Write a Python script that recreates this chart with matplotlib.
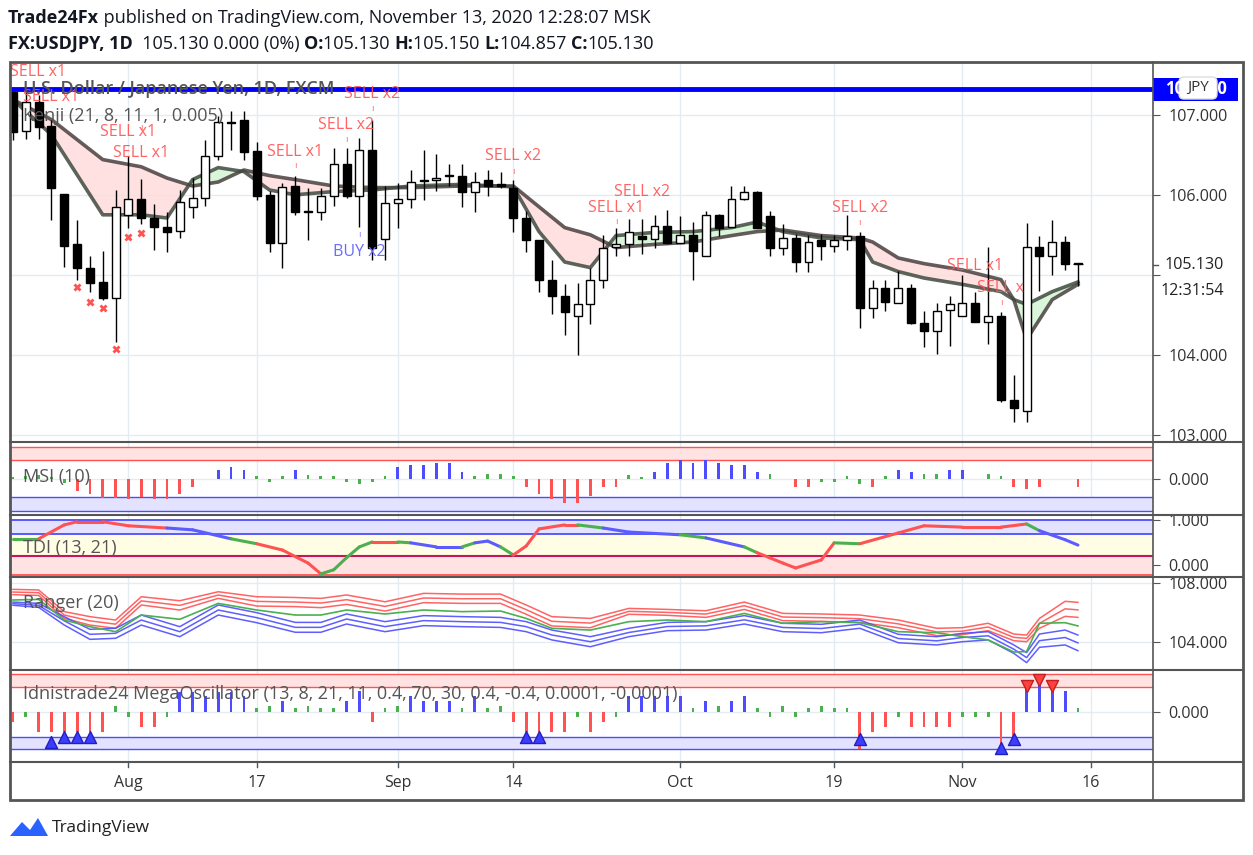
import matplotlib
matplotlib.use("Agg")
import matplotlib.pyplot as plt
from matplotlib.patches import Rectangle, FancyBboxPatch, Polygon
import numpy as np

plt.rcParams["font.family"] = "Open Sans"

# ---------------- DATA ----------------
opens = [107.28,106.80,107.16,106.86,106.01,105.38,105.09,104.91,104.71,105.75,105.95,105.71,105.60,105.55,105.85,105.96,106.48,106.91,106.93,106.55,
         106.00,105.40,106.11,105.79,105.78,105.98,106.39,105.98,106.56,105.45,105.90,105.95,106.18,106.19,106.24,106.24,106.03,106.18,106.14,106.09,
         105.71,105.44,104.94,104.74,104.48,104.64,104.93,105.35,105.39,105.48,105.45,105.61,105.40,105.50,105.23,105.75,105.60,105.95,106.03,105.73,
         105.33,105.46,105.16,105.43,105.36,105.44,105.49,104.59,104.83,104.65,104.83,104.40,104.30,104.56,104.49,104.65,104.41,104.49,103.43,103.30,
         105.35,105.24,105.41,105.13]
closes = [106.79,107.16,106.85,106.08,105.36,105.09,104.90,104.71,105.85,105.95,105.71,105.60,105.54,105.91,105.96,106.48,106.91,106.90,106.54,105.99,
          105.40,106.10,105.78,105.78,105.98,106.39,105.98,106.56,105.34,105.90,105.95,106.16,106.17,106.21,106.23,106.03,106.16,106.11,106.11,105.71,
          105.43,104.93,104.73,104.54,104.64,104.93,105.34,105.39,105.54,105.45,105.61,105.40,105.50,105.30,105.75,105.59,105.95,106.03,105.59,105.33,
          105.46,105.16,105.41,105.36,105.43,105.48,104.59,104.83,104.66,104.83,104.40,104.30,104.55,104.64,104.65,104.41,104.49,103.43,103.34,105.35,
          105.24,105.41,105.13,105.13]
highs = [107.34,107.31,107.25,106.94,106.01,105.69,105.24,105.30,106.06,106.49,106.20,105.88,105.79,106.06,106.21,106.69,106.99,107.05,107.05,106.66,
         106.05,106.15,106.23,106.08,106.09,106.59,106.59,106.71,106.94,106.11,106.15,106.31,106.56,106.51,106.39,106.39,106.28,106.31,106.28,106.18,
         105.80,105.44,105.18,104.88,104.90,105.09,105.50,105.59,105.70,105.70,105.75,105.81,105.73,105.66,105.80,105.76,106.11,106.11,106.05,105.80,
         105.63,105.51,105.50,105.51,105.50,105.75,105.53,104.93,104.93,105.05,104.89,104.55,104.65,104.74,105.00,104.79,105.35,104.54,103.75,105.65,
         105.48,105.68,105.48,105.15]
lows = [106.69,106.70,106.70,105.68,105.10,104.94,104.78,104.69,104.16,105.58,105.64,105.31,105.29,105.46,105.71,105.86,106.44,106.56,106.44,105.94,
        105.28,105.09,105.75,105.43,105.68,105.86,105.96,105.60,105.19,105.19,105.59,105.84,105.94,106.05,106.11,105.85,105.78,105.99,106.08,105.54,
        105.29,104.79,104.51,104.25,104.00,104.39,104.83,105.23,105.24,105.26,105.34,105.38,105.40,104.94,105.23,105.48,105.60,105.94,105.58,105.23,
        105.25,105.04,105.04,105.18,105.29,105.31,104.34,104.46,104.55,104.65,104.38,104.10,104.01,104.11,104.49,104.41,104.14,103.41,103.16,103.16,
        104.80,105.00,105.06,104.857]

kenji_idx = [0,3,7,10,12,14,16,18,20,22,25,28,31,35,39,41,43,45,47,50,53,56,58,60,63,66,67,69,71,74,77,78,79,81,83]
kenji_slow = [107.19,106.94,106.44,106.35,106.21,106.11,106.16,106.31,106.24,106.19,106.11,106.09,106.09,106.11,106.11,105.85,105.59,105.50,105.34,105.38,
              105.41,105.49,105.54,105.56,105.49,105.46,105.41,105.21,105.14,105.06,104.94,104.69,104.19,104.69,104.88]
kenji_fast = [107.19,106.75,105.75,105.75,105.71,106.19,106.34,106.29,106.06,106.00,106.04,106.06,106.11,106.13,106.10,105.54,105.16,105.09,105.49,105.53,
              105.54,105.59,105.66,105.54,105.46,105.44,105.16,105.04,104.96,104.88,104.79,104.69,104.63,104.79,104.91]

resistance_level = 107.325
last_price = 105.13

sell_labels = [("SELL x1",2,107.54),("SELL x1",3,107.22),("SELL x1",9,106.79),("SELL x1",10,106.52),("SELL x1",22,106.54),
               ("SELL x2",26,106.87),("SELL x2",28,107.26),("SELL x2",39,106.49),("SELL x1",47,105.84),("SELL x2",49,106.03),
               ("SELL x2",66,105.84),("SELL x1",75,105.11),("SELL x",77,104.84)]
sell_marks = [(10,106.83),(22,106.36),(26,106.68),(28,107.07),(39,106.28),(47,105.66),(66,105.64),(77,104.64)]
buy_labels = [("BUY x2",27,105.29)]
buy_marks = [(27,105.49)]
x_marks = [(9,105.47),(10,105.52),(5,104.85),(6,104.66),(7,104.59),(8,104.07)]

msi = [8,10,14,8,-12,-34,-43,-55,-55,-60,-52,-60,-60,-43,-22,2,28,38,28,10,-8,10,28,14,10,10,-8,-14,-8,10,38,44,44,50,50,22,10,16,16,10,
       -22,-43,-60,-70,-70,-50,-22,-22,14,6,22,50,58,50,58,50,44,44,22,16,2,-22,-22,-8,-8,10,-14,-22,10,28,22,16,16,28,28,2,16,10,-22,-28,-22,2,2,-22]

tdi_idx = [0,2,4,5,7,9,12,14,17,19,21,23,24,25,26,27,28,30,31,33,35,36,37,38,39,40,41,43,44,46,48,52,54,57,58,60,61,63,64,66,69,71,74,77,79,80,82,83]
tdi_val = [0.58,0.58,0.89,0.96,0.96,0.87,0.82,0.78,0.58,0.47,0.33,0.04,-0.20,-0.11,0.16,0.40,0.51,0.51,0.49,0.40,0.40,0.49,0.53,0.40,0.22,0.42,0.80,0.89,
           0.89,0.82,0.73,0.67,0.60,0.40,0.27,0.04,-0.07,0.11,0.49,0.47,0.71,0.87,0.84,0.84,0.91,0.76,0.56,0.44]
tdi_state = ["g","r","r","r","r","r","b","b","g","r","r","r","g","g","g","g","r","g","b","b","g","b","b","g","r","r","r","r",
             "g","b","b","g","b","g","r","r","r","r","g","r","r","r","r","r","g","b","b","b"]

rng_idx = [0,2,4,6,8,10,13,16,19,22,24,26,29,32,35,38,40,42,45,48,51,54,57,60,63,66,69,72,74,76,78,79,80,82,83]
rng_red_outer = [107.57,107.53,106.06,105.72,105.49,107.07,106.80,107.41,107.07,107.02,106.96,107.19,106.73,107.30,107.25,107.25,106.51,105.72,105.60,106.28,
                 106.21,106.12,106.71,105.94,105.90,105.83,105.49,104.93,104.97,105.27,104.54,104.47,105.60,106.76,106.69]
rng_red_inner = [107.21,107.16,105.60,105.15,104.93,106.51,106.17,106.96,106.44,106.40,106.33,106.55,106.10,106.67,106.62,106.62,105.88,105.09,104.97,105.88,
                 105.81,105.67,106.21,105.45,105.40,105.33,104.97,104.43,104.50,104.77,104.09,104.02,104.93,105.74,105.67]
rng_mid = [106.85,106.89,105.49,105.04,104.70,105.83,105.54,106.62,106.17,105.83,105.83,106.17,105.90,106.17,106.06,106.10,105.60,104.93,104.81,105.38,
           105.49,105.38,105.94,105.27,105.38,105.31,104.70,104.63,104.36,104.14,103.32,103.35,105.27,105.31,105.09]
rng_blue_inner = [106.71,106.62,105.72,104.86,104.93,105.83,105.04,106.51,105.99,105.33,105.33,105.90,105.38,105.79,105.72,105.67,105.38,104.81,104.36,104.93,
                  105.33,105.38,105.79,105.27,105.20,105.49,104.52,104.36,104.59,104.70,103.80,103.28,104.54,104.81,104.47]
rng_blue_outer = [106.49,106.35,105.15,104.18,104.25,105.15,104.36,105.83,105.31,104.66,104.66,105.22,104.70,105.11,105.04,104.99,104.70,104.14,103.68,104.36,
                  104.77,104.81,105.22,104.70,104.63,104.93,103.95,103.80,104.02,104.14,103.23,102.60,103.64,103.80,103.41]

mega = [-30,-14,-60,-60,-60,-60,-60,-60,20,-14,-45,-45,-14,60,60,50,60,60,50,14,20,34,14,20,14,14,34,64,-30,14,20,50,34,34,34,14,50,14,20,-30,
        -60,-60,-60,-60,-14,-60,-30,-14,50,50,50,50,50,14,34,20,34,50,14,-14,20,-14,14,20,14,14,-110,-60,-45,-14,-45,-45,-45,-45,-14,-14,-14,-110,-90,95,
        105,90,64,14]
mega_buy_idx = [3,4,5,6,40,41,66,77,78]
mega_buy_val = [-88,-75,-75,-75,-75,-75,-80,-108,-80]
mega_sell_idx = [79,80,81]
mega_sell_val = [78,97,78]

tick_pos = [9,19,30,39,52,64,74,84]
tick_lbl = ["Aug","17","Sep","14","Oct","19","Nov","16"]

# ---------------- STYLE ----------------
W, H = 1253, 855
RED = "#FF5252"; BLUE = "#4D4DFF"; GREEN = "#4CAF50"; GRID = "#E3EBF3"; TXT = "#555555"
fig = plt.figure(figsize=(W/100, H/100), dpi=100)
fig.patch.set_facecolor("white")
XL, XR = 10, 1153
xlim = (-0.23, 88.85)

def add_ax(y0, y1):
    ax = fig.add_axes([XL/W, 1-y1/H, (XR-XL)/W, (y1-y0)/H])
    ax.set_xlim(*xlim)
    for s in ax.spines.values():
        s.set_visible(False)
    ax.yaxis.tick_right()
    ax.tick_params(axis="y", length=5, pad=6, colors="#555555", labelsize=11.5, labelcolor="#333333")
    ax.tick_params(axis="x", length=0, labelbottom=False)
    ax.set_xticks(tick_pos)
    ax.grid(True, color=GRID, lw=1)
    ax.set_axisbelow(True)
    return ax

n = len(opens)
idx = np.arange(n)

# ---- main ----
ax = add_ax(62, 442)
ax.set_ylim(102.91, 107.66)
ax.set_yticks([103,104,105,106,107])
ax.set_yticklabels(["103.000","104.000","","106.000","107.000"])
ks = np.array(kenji_slow); kf = np.array(kenji_fast)
ax.fill_between(kenji_idx, ks, kf, where=ks >= kf, interpolate=True, color="#FFDADA", alpha=0.8, lw=0)
ax.fill_between(kenji_idx, ks, kf, where=ks < kf, interpolate=True, color="#D6F5D6", alpha=0.9, lw=0)
ax.plot(kenji_idx, ks, color="#4a3f3f", lw=2.6, alpha=0.85, zorder=3)
ax.plot(kenji_idx, kf, color="#3f4a3f", lw=2.6, alpha=0.85, zorder=3)
ax.vlines(idx, lows, highs, color="black", lw=1, zorder=4)
o = np.array(opens); c = np.array(closes)
bot = np.minimum(o, c); hgt = np.maximum(np.abs(c-o), 0.012)
cols = ["white" if cc >= oo else "black" for oo, cc in zip(o, c)]
ax.bar(idx, hgt, bottom=bot, width=0.62, color=cols, edgecolor="black", lw=1, zorder=5)
ax.axhline(resistance_level, color="#0000FF", lw=3.5, zorder=6)
ax.plot([n-1.4, n-0.6], [last_price]*2, color="black", lw=0.8, ls=":", zorder=6)
for t, i, p in sell_labels:
    ax.text(i, p, t, color=RED, fontsize=11.5, ha="center", va="center", zorder=7, alpha=0.9)
for i, p in sell_marks:
    ax.text(i, p, "I", color=RED, fontsize=6, ha="center", va="center", zorder=7)
for t, i, p in buy_labels:
    ax.text(i, p, t, color="#6B6BFF", fontsize=11.5, ha="center", va="center", zorder=7)
for i, p in buy_marks:
    ax.text(i, p, "I", color="#6B6BFF", fontsize=6, ha="center", va="center", zorder=7)
for i, p in x_marks:
    ax.plot(i, p, marker="X", color=RED, ms=5.5, mec="none", zorder=7)
ax.text(0.011, 0.93, "U.S. Dollar / Japanese Yen, 1D, FXCM", transform=ax.transAxes, fontsize=13, color=TXT, va="center", zorder=8, weight="semibold")
ax.text(0.011, 0.858, "Kenji (21, 8, 11, 1, 0.005)", transform=ax.transAxes, fontsize=13, color=TXT, va="center", zorder=8)

# ---- MSI ----
ax2 = add_ax(442, 515)
ax2.set_ylim(-107, 112)
ax2.set_yticks([0]); ax2.set_yticklabels(["0.000"])
ax2.axhspan(58, 96, color="#FFE3E3", lw=0)
ax2.axhspan(-95, -54, color="#E3E3FF", lw=0)
for yv, cl in [(58, RED), (96, RED), (-54, BLUE), (-95, BLUE)]:
    ax2.axhline(yv, color=cl, lw=1)
mc = [RED if v <= -20 else (BLUE if v >= 20 else GREEN) for v in msi]
ax2.bar(idx, msi, width=0.22, color=mc, lw=0, zorder=3)
ax2.text(0.011, 0.52, "MSI (10)", transform=ax2.transAxes, fontsize=13, color=TXT, va="center")

# ---- TDI ----
ax3 = add_ax(515, 577)
ax3.set_ylim(-0.27, 1.11)
ax3.set_yticks([0, 1]); ax3.set_yticklabels(["0.000", "1.000"])
ax3.axhspan(0.69, 1.0, color="#E3E3FF", lw=0)
ax3.axhspan(0.2, 0.69, color="#FFFDE3", lw=0)
ax3.axhspan(-0.22, 0.2, color="#FFE3E3", lw=0)
ax3.axhline(1.0, color=BLUE, lw=1.3); ax3.axhline(0.69, color=BLUE, lw=1.3)
ax3.axhline(0.2, color="#C2185B", lw=1.5); ax3.axhline(-0.22, color=RED, lw=1.3)
cmap = {"r": RED, "g": GREEN, "b": "#5B5BFF"}
for k in range(len(tdi_idx)-1):
    ax3.plot(tdi_idx[k:k+2], tdi_val[k:k+2], color=cmap[tdi_state[k]], lw=2.2, solid_capstyle="round", zorder=3)
ax3.text(0.011, 0.47, "TDI (13, 21)", transform=ax3.transAxes, fontsize=13, color=TXT, va="center", zorder=4)

# ---- Ranger ----
ax4 = add_ax(577, 670)
ax4.set_ylim(102.10, 108.41)
ax4.set_yticks([104, 108]); ax4.set_yticklabels(["104.000", "108.000"])
ro = np.array(rng_red_outer); ri = np.array(rng_red_inner)
bi = np.array(rng_blue_inner); bo = np.array(rng_blue_outer)
for arr in [ro, (ro+ri)/2, ri]:
    ax4.plot(rng_idx, arr, color=RED, lw=1.1, alpha=0.9)
for arr in [bi, (bi+bo)/2, bo]:
    ax4.plot(rng_idx, arr, color="#4D4DFF", lw=1.1, alpha=0.9)
ax4.plot(rng_idx, rng_mid, color=GREEN, lw=1.2)
ax4.text(0.011, 0.72, "Ranger (20)", transform=ax4.transAxes, fontsize=13, color=TXT, va="center", zorder=4)

# ---- Mega ----
ax5 = add_ax(670, 762)
ax5.set_ylim(-149, 127)
ax5.set_yticks([0]); ax5.set_yticklabels(["0.000"])
ax5.axhspan(75, 115, color="#FFE3E3", lw=0)
ax5.axhspan(-111, -73, color="#E3E3FF", lw=0)
for yv, cl in [(75, RED), (115, RED), (-73, BLUE), (-111, BLUE)]:
    ax5.axhline(yv, color=cl, lw=1)
gc = [RED if v <= -30 else (BLUE if v >= 34 else GREEN) for v in mega]
ax5.bar(idx, mega, width=0.22, color=gc, lw=0, zorder=3)
ax5.scatter(mega_buy_idx, mega_buy_val, marker="^", s=75, color="#3D3DFF", edgecolor="#2020C0", zorder=4)
ax5.scatter(mega_sell_idx, mega_sell_val, marker="v", s=75, color="#FF4040", edgecolor="#C02020", zorder=4)
ax5.text(0.011, 0.74, "Idnistrade24 MegaOscillator (13, 8, 21, 11, 0.4, 70, 30, 0.4, -0.4, 0.0001, -0.0001)",
         transform=ax5.transAxes, fontsize=13, color=TXT, va="center", zorder=5)

# ---- time axis ----
ax6 = add_ax(762, 800)
ax6.set_ylim(0, 1)
ax6.grid(False)
ax6.set_yticks([])
ax6.tick_params(axis="x", length=0, labelbottom=False)
for tp, tl in zip(tick_pos, tick_lbl):
    ax6.plot([tp, tp], [0.87, 1.0], color="#555555", lw=1)
    ax6.text(tp, 0.45, tl, ha="center", va="center", fontsize=11.5, color="#333333")

# ---- overlay: frame, headers, labels ----
ov = fig.add_axes([0, 0, 1, 1], facecolor="none", zorder=20)
ov.set_xlim(0, W); ov.set_ylim(H, 0); ov.axis("off")
FR = "#555555"
ov.add_patch(Rectangle((10, 62), 1233, 738, fill=False, ec=FR, lw=2))
ov.plot([XR, XR], [62, 800], color=FR, lw=1.2)
for yy in [442, 515, 577, 670, 762]:
    ov.plot([10, 1243], [yy, yy], color=FR, lw=1.5)

renderer = fig.canvas.get_renderer()
def runs(x, y, parts):
    for txt, bold in parts:
        t = ov.text(x, y, txt, fontsize=13, color="#131722", va="center",
                    weight="bold" if bold else "normal")
        bb = t.get_window_extent(renderer=renderer)
        x += bb.width
runs(8, 18, [("Trade24Fx", True), (" published on TradingView.com, November 13, 2020 12:28:07 MSK", False)])
runs(8, 44, [("FX:USDJPY, 1D", True), ("  105.130 0.000 (0%) ", False), ("O:", True), ("105.130 ", False),
             ("H:", True), ("105.150 ", False), ("L:", True), ("104.857 ", False), ("C:", True), ("105.130", False)])
# price tag
ov.add_patch(Rectangle((1153, 78), 85, 23, color="#0000FF", lw=0))
ov.text(1196, 89.5, "107.330", color="white", fontsize=12, ha="center", va="center", weight="bold")
ov.add_patch(FancyBboxPatch((1180, 78), 36, 20, boxstyle="round,pad=1,rounding_size=5", fc="white", ec="#DDDDDD", lw=1))
ov.text(1198, 88, "JPY", color="#333333", fontsize=11, ha="center", va="center")
ov.plot([1153, 1158], [265, 265], color="#555555", lw=1)
ov.text(1165, 265, "105.130", color="#222222", fontsize=11.5, va="center")
ov.text(1160, 291, "12:31:54", color="#222222", fontsize=11.5, va="center")
# logo
ov.add_patch(Polygon([[10, 836], [22, 822], [30, 830], [38, 818], [48, 836]], closed=True, color="#2962FF", lw=0))
ov.text(52, 828, "TradingView", fontsize=12.5, color="#222222", va="center")

fig.savefig("out.png", dpi=100)
